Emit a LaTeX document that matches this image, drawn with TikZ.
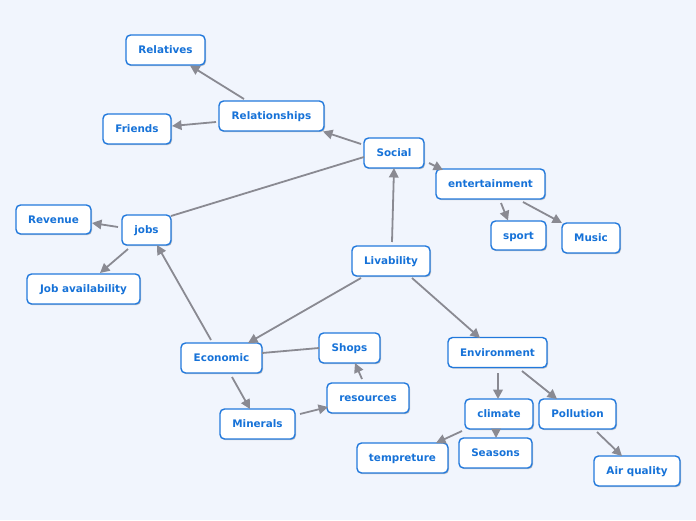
\documentclass[tikz,border=0pt]{standalone}
\usepackage{fontspec}
\setmainfont{DejaVu Sans}
\usetikzlibrary{arrows.meta,shadows}
\definecolor{bgc}{HTML}{F1F5FD}
\definecolor{bordc}{HTML}{2279DC}
\definecolor{txtc}{HTML}{1672D8}
\definecolor{edgec}{HTML}{8A8A92}
\tikzset{
  mbox/.style={draw=bordc, line width=1.4pt, fill=white, rounded corners=4.5pt,
    minimum height=30pt, inner sep=2pt, text=txtc, text height=7.6pt, text depth=0pt,
    font=\fontsize{10.4}{12}\selectfont\bfseries,
    drop shadow={shadow xshift=1pt, shadow yshift=-1.2pt, fill=black, opacity=0.22}},
  arr/.style={draw=edgec, line width=1.8pt, -{Triangle[length=9.5pt,width=9.5pt]}},
  pln/.style={draw=edgec, line width=1.8pt}
}
\begin{document}
\begin{tikzpicture}[x=1pt,y=-1pt]
\fill[bgc] (0,0) rectangle (696,520);
\useasboundingbox (0,0) rectangle (696,520);
% nodes
\node[mbox, minimum width=79pt] (relat) at (165.5,50) {Relatives};
\node[mbox, minimum width=105pt] (relp) at (271.5,116) {Relationships};
\node[mbox, minimum width=68pt] (friends) at (137,129) {Friends};
\node[mbox, minimum width=60pt] (social) at (394,153) {Social};
\node[mbox, minimum width=109pt] (ent) at (490.5,184) {entertainment};
\node[mbox, minimum width=55pt, minimum height=29pt] (sport) at (518.5,235.5) {sport};
\node[mbox, minimum width=58pt] (music) at (591,238) {Music};
\node[mbox, minimum width=75pt, minimum height=29pt] (revenue) at (53.5,219.5) {Revenue};
\node[mbox, minimum width=49pt] (jobs) at (146.5,230) {jobs};
\node[mbox, minimum width=113pt] (jobav) at (83.5,289) {Job availability};
\node[mbox, minimum width=78pt] (liv) at (391,261) {Livability};
\node[mbox, minimum width=81pt] (econ) at (221.5,358) {Economic};
\node[mbox, minimum width=61pt] (shops) at (349.5,348) {Shops};
\node[mbox, minimum width=82pt] (res) at (368,398) {resources};
\node[mbox, minimum width=75pt] (mins) at (257.5,424) {Minerals};
\node[mbox, minimum width=99pt] (env) at (497.5,352.5) {Environment};
\node[mbox, minimum width=68pt] (climate) at (499,414) {climate};
\node[mbox, minimum width=77pt] (poll) at (577.5,414) {Pollution};
\node[mbox, minimum width=91pt] (temp) at (402.5,458) {tempreture};
\node[mbox, minimum width=73pt] (seasons) at (495.5,453) {Seasons};
\node[mbox, minimum width=86pt] (air) at (637,471) {Air quality};
% edges
\draw[arr] ([shift={(-27.5,-17)}]relp.center) -- ([shift={(24.5,15.5)}]relat.center);
\draw[arr] ([shift={(-55.5,6)}]relp.center) -- ([shift={(35,-3)}]friends.center);
\draw[arr] ([shift={(-33,-9)}]social.center) -- ([shift={(51.5,15.5)}]relp.center);
\draw[arr] ([shift={(35,10)}]social.center) -- ([shift={(-47.5,-14)}]ent.center);
\draw[arr] ([shift={(10.5,19)}]ent.center) -- ([shift={(-10.5,-15)}]sport.center);
\draw[arr] ([shift={(32.5,18)}]ent.center) -- ([shift={(-29,-15)}]music.center);
\draw[pln] ([shift={(-30,4)}]social.center) -- ([shift={(24.5,-14)}]jobs.center);
\draw[arr] ([shift={(-28.5,-3)}]jobs.center) -- ([shift={(38.5,3.5)}]revenue.center);
\draw[arr] ([shift={(-18.5,19)}]jobs.center) -- ([shift={(16.5,-16)}]jobav.center);
\draw[arr] ([shift={(1,-19)}]liv.center) -- ([shift={(0,15)}]social.center);
\draw[arr] ([shift={(-10.5,-18)}]econ.center) -- ([shift={(10.5,15)}]jobs.center);
\draw[arr] ([shift={(-30,17)}]liv.center) -- ([shift={(26.5,-15)}]econ.center);
\draw[pln] ([shift={(40.5,-5)}]econ.center) -- ([shift={(-30.5,0)}]shops.center);
\draw[arr] ([shift={(10.5,19)}]econ.center) -- ([shift={(-7.5,-15)}]mins.center);
\draw[arr] ([shift={(42.5,-10)}]mins.center) -- ([shift={(-40,9)}]res.center);
\draw[arr] ([shift={(-6,-19)}]res.center) -- ([shift={(5.5,15)}]shops.center);
\draw[arr] ([shift={(21,17)}]liv.center) -- ([shift={(-17.5,-14.5)}]env.center);
\draw[arr, line width=2.6pt] ([shift={(0.5,20.5)}]env.center) -- ([shift={(-1,-15)}]climate.center);
\draw[arr] ([shift={(24.5,18.5)}]env.center) -- ([shift={(-20.5,-15)}]poll.center);
\draw[arr] ([shift={(-37,17)}]climate.center) -- ([shift={(33.5,-15)}]temp.center);
\draw[arr] ([shift={(-3,15)}]climate.center) -- ([shift={(0.5,-15)}]seasons.center);
\draw[arr] ([shift={(19.5,18)}]poll.center) -- ([shift={(-15,-15)}]air.center);
\end{tikzpicture}
\end{document}
